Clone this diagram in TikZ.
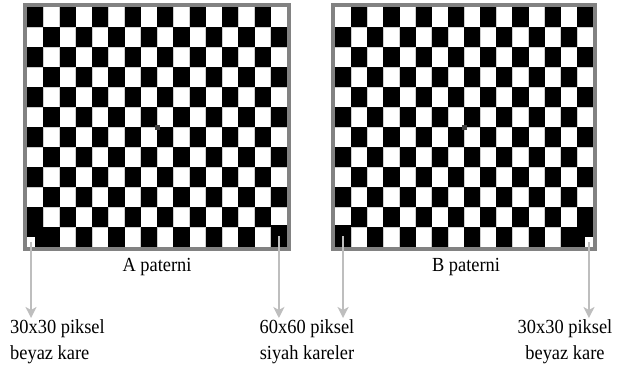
\documentclass[tikz,border=0pt]{standalone}
\usepackage{fontspec}
\setmainfont{Liberation Serif}[FakeStretch=0.92]
\usepackage{tikz}
\usetikzlibrary{positioning,arrows.meta,calc}

\begin{document}
\begin{tikzpicture}[x=1pt,y=-1pt,font=\fontsize{20}{26}\selectfont,
  gridline/.style={draw=black!20,line width=.6pt},
  frame/.style={draw=framegray,line width=4pt},
  arr/.style={-{Stealth[length=11pt,width=11pt,inset=3pt]},line width=2pt,draw=arrgray},
  sq/.style={inner sep=0pt,outer sep=0pt},
  centermark/.style={sq,fill=black!75,minimum size=5pt},
  lbl/.style={inner sep=1pt}]
\definecolor{framegray}{HTML}{828282}
\definecolor{arrgray}{HTML}{BEBEBE}
\fill[white] (0,0) rectangle (626,372);
\useasboundingbox (0,0) rectangle (626,372);
% light cell edges
\foreach \c in {1,...,15}{
  \draw[gridline] (27+\c*16.25,7) -- (27+\c*16.25,247);
  \draw[gridline] (335+\c*16.125,7) -- (335+\c*16.125,247);
}
\foreach \r in {1,...,11}{
  \draw[gridline] (27,7+\r*20) -- (287,7+\r*20);
  \draw[gridline] (335,7+\r*20) -- (593,7+\r*20);
}
% A pattern: black where row+col is even; B: where it is odd
\foreach \r in {0,...,11}
  \foreach \c in {0,...,15}{
    \pgfmathtruncatemacro{\s}{mod(\r+\c,2)}
    \ifnum\s=0 \fill[black] (27+\c*16.25,7+\r*20) rectangle ++(16.25,20);
    \else \fill[black] (335+\c*16.125,7+\r*20) rectangle ++(16.125,20);\fi
  }
% corner squares
\fill[black] (27,227) rectangle (59.5,247);
\node[sq,fill=white,minimum width=8.1pt,minimum height=10pt,anchor=south west] (wA) at (27,247) {};
\node[sq,fill=black,minimum width=16.25pt,minimum height=22pt,anchor=south east] (kA) at (287,247) {};
\node[sq,fill=black,minimum width=16.125pt,minimum height=22pt,anchor=south west] (kB) at (335,247) {};
\fill[black] (560.75,227) rectangle (593,247);
\node[sq,fill=white,minimum width=8.1pt,minimum height=10pt,anchor=south east] (wB) at (593,247) {};
% centre marks
\node[centermark] (cA) at (157,127) {};
\node[centermark] (cB) at (464,127) {};
\draw[frame] (25,5) rectangle (289,249);
\draw[frame] (333,5) rectangle (595,249);
\node[lbl] (pA) at (157,267) {A paterni};
\node[lbl] (pB) at (466,267) {B paterni};
\node[lbl,align=left,anchor=north west] (lw1) at (9,318) {30x30 piksel\\beyaz kare};
\node[lbl,align=center,anchor=north] (lk) at (307,318) {60x60 piksel\\siyah kareler};
\node[lbl,align=center,anchor=north] (lw2) at (565,318) {30x30 piksel\\beyaz kare};
\draw[arr] (wA.center)--(wA.center |- lw1.north);
\draw[arr] (kA.center)--(kA.center |- lk.north);
\draw[arr] (kB.center)--(kB.center |- lk.north);
\draw[arr] (wB.center)--(wB.center |- lw2.north);
\end{tikzpicture}
\end{document}
